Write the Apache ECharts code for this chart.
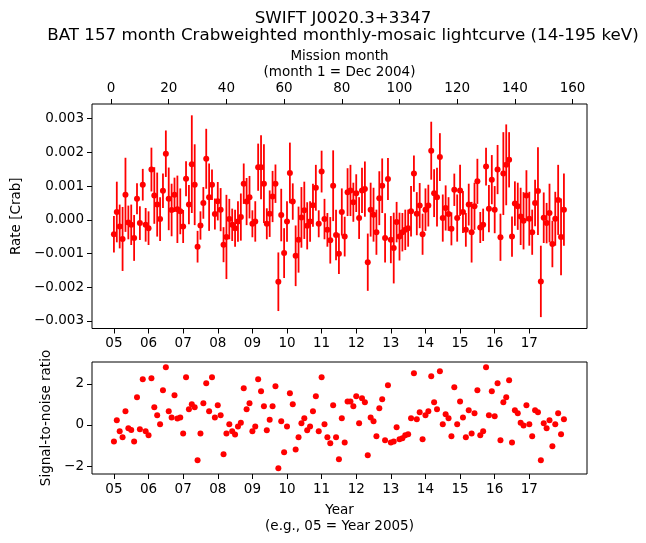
<!DOCTYPE html>
<html><head><meta charset="utf-8">
<script src="https://cdn.jsdelivr.net/npm/echarts@6/dist/echarts.min.js"></script>
<style>html,body{margin:0;padding:0;background:#fff}#c{width:646px;height:543px}</style>
</head><body><div id="c"></div>
<script>
// Rate [Crab] per mission month (1..157)
const rate = [
-0.00043,0.00023,-0.00020,-0.00057,0.00074,-0.00008,-0.00015,-0.00054,0.00062,-0.00010,
0.00104,-0.00015,-0.00025,0.00149,0.00072,0.00045,0.00002,0.00086,0.00196,0.00062,
0.00029,0.00074,0.00031,0.00025,-0.00020,0.00122,0.00045,0.00165,0.00104,-0.00080,
-0.00017,0.00050,0.00181,0.00067,0.00104,0.00017,0.00055,0.00030,-0.00074,-0.00051,
0.00002,-0.00015,-0.00025,-0.00005,0.00008,0.00107,0.00054,0.00067,-0.00012,-0.00005,
0.00156,0.00156,0.00107,-0.00012,0.00018,0.00069,0.00107,-0.00184,0.00014,-0.00099,
-0.00005,0.00139,0.00054,-0.00107,-0.00059,0.00007,0.00028,-0.00018,-0.00005,0.00043,
0.00095,-0.00012,0.00143,0.00002,-0.00030,-0.00061,0.00101,-0.00045,-0.00101,0.00023,
-0.00050,0.00082,0.00087,0.00052,0.00079,0.00005,0.00087,0.00091,-0.00126,0.00030,
0.00015,-0.00037,0.00064,0.00101,-0.00054,0.00121,-0.00059,-0.00084,-0.00007,-0.00050,
-0.00037,-0.00030,-0.00025,0.00025,0.00137,0.00018,0.00042,-0.00043,0.00030,0.00042,
0.00205,0.00079,0.00067,0.00186,0.00005,0.00035,0.00017,-0.00027,0.00089,0.00005,
0.00087,0.00023,-0.00030,0.00045,-0.00037,0.00040,0.00114,-0.00023,-0.00015,0.00158,
0.00033,0.00119,0.00030,0.00149,-0.00052,0.00137,0.00163,0.00178,-0.00050,0.00048,
0.00040,0.00010,-0.00003,0.00072,0.00003,-0.00037,0.00050,0.00085,-0.00183,0.00006,
-0.00010,0.00020,-0.00072,0.00003,0.00059,-0.00051,0.00030
];
// 1-sigma error [Crab]
const rateErr = [
0.00054,0.00090,0.00065,0.00095,0.00110,0.00050,0.00060,0.00068,0.00046,0.00050,
0.00047,0.00050,0.00050,0.00065,0.00084,0.00095,0.00065,0.00051,0.00069,0.00093,
0.00078,0.00051,0.00100,0.00068,0.00049,0.00052,0.00058,0.00145,0.00120,0.00047,
0.00042,0.00047,0.00089,0.00100,0.00045,0.00046,0.00057,0.00064,0.00052,0.00125,
0.00060,0.00048,0.00055,0.00060,0.00070,0.00060,0.00070,0.00063,0.00040,0.00060,
0.00070,0.00095,0.00117,0.00046,0.00069,0.00076,0.00057,0.00087,0.00078,0.00074,
0.00060,0.00090,0.00054,0.00090,0.00098,0.00090,0.00085,0.00070,0.00060,0.00064,
0.00068,0.00040,0.00062,0.00060,0.00050,0.00069,0.00105,0.00075,0.00060,0.00070,
0.00059,0.00071,0.00076,0.00058,0.00056,0.00062,0.00067,0.00082,0.00085,0.00080,
0.00080,0.00067,0.00080,0.00081,0.00073,0.00062,0.00070,0.00105,0.00060,0.00071,
0.00057,0.00060,0.00055,0.00075,0.00054,0.00064,0.00067,0.00061,0.00063,0.00062,
0.00086,0.00071,0.00087,0.00071,0.00070,0.00067,0.00050,0.00049,0.00048,0.00070,
0.00076,0.00062,0.00050,0.00062,0.00090,0.00070,0.00067,0.00046,0.00048,0.00056,
0.00070,0.00073,0.00070,0.00073,0.00070,0.00123,0.00120,0.00082,0.00060,0.00066,
0.00070,0.00085,0.00085,0.00075,0.00080,0.00067,0.00069,0.00130,0.00106,0.00075,
0.00060,0.00087,0.00069,0.00080,0.00104,0.00114,0.00107
];
// Signal-to-noise ratio
const snr = [
-0.80,0.23,-0.31,-0.60,0.67,-0.16,-0.24,-0.80,1.35,-0.21,
2.23,-0.31,-0.50,2.28,0.86,0.47,0.03,1.69,2.81,0.67,
0.37,1.45,0.31,0.37,-0.41,2.33,0.77,1.01,0.86,-1.72,
-0.41,1.06,2.03,0.67,2.33,0.37,0.96,0.47,-1.43,-0.41,
0.03,-0.31,-0.46,-0.08,0.11,1.79,0.77,1.06,-0.31,-0.08,
2.23,1.64,0.91,-0.26,0.26,0.91,1.89,-2.11,0.18,-1.33,
-0.08,1.55,1.01,-1.19,-0.60,0.08,0.33,-0.26,-0.08,0.67,
1.40,-0.31,2.33,0.03,-0.60,-0.89,0.96,-0.60,-1.67,0.33,
-0.85,1.15,1.15,0.91,1.40,0.08,1.30,1.11,-1.48,0.37,
0.18,-0.55,0.81,1.25,-0.75,1.94,-0.85,-0.80,-0.11,-0.70,
-0.65,-0.50,-0.45,0.33,2.52,0.28,0.62,-0.70,0.47,0.67,
2.37,1.11,0.77,2.62,0.03,0.52,0.33,-0.55,1.84,0.03,
1.15,0.37,-0.60,0.72,-0.41,0.57,1.69,-0.50,-0.31,2.81,
0.47,1.64,0.42,2.03,-0.75,1.11,1.35,2.18,-0.85,0.72,
0.57,0.11,-0.03,0.96,0.03,-0.55,0.72,0.62,-1.72,0.08,
-0.16,0.23,-1.04,0.03,0.57,-0.45,0.28
];
const monthTicks = [0,20,40,60,80,100,120,140,160];
const yearTickMonths = [1,13,25,37,49,61,73,85,97,109,121,133,145];
const yearLabels = ["05","06","07","08","09","10","11","12","13","14","15","16","17"];
const rateTicks = [-0.003,-0.002,-0.001,0,0.001,0.002,0.003];
const snrTicks = [-2,0,2];

const months = rate.map((_, i) => i + 1);
const FONT = 'DejaVu Sans';
const XMIN = -6.6, XMAX = 165;
const fmtNum = (v, d) => { const s = Math.abs(v).toFixed(d); return (v < -1e-12 ? '\u2212' : '') + s; };
const yearFmt = v => { const i = yearTickMonths.indexOf(v); return i >= 0 ? yearLabels[i] : ''; };
const tickStyle = { show: true, inside: false, length: 5, lineStyle: { color: '#000', width: 1 } };
const lblStyle = { color: '#000', fontFamily: FONT, fontSize: 13.5 };
const noLine = { show: false, onZero: false };

const chart = echarts.init(document.getElementById('c'), null, { renderer: 'canvas' });
chart.setOption({
  animation: false,
  backgroundColor: '#fff',
  title: [
    { text: 'SWIFT J0020.3+3347', left: 338, top: 5, textAlign: 'center',
      textStyle: { fontFamily: FONT, fontSize: 16.7, fontWeight: 'normal', color: '#000' } },
    { text: 'BAT 157 month Crabweighted monthly-mosaic lightcurve (14-195 keV)', left: 338, top: 22, textAlign: 'center',
      textStyle: { fontFamily: FONT, fontSize: 16.7, fontWeight: 'normal', color: '#000' } }
  ],
  grid: [
    { left: 92, top: 104, width: 495, height: 224.5, show: true, borderColor: '#000', borderWidth: 1, backgroundColor: 'transparent' },
    { left: 92, top: 362, width: 495, height: 112, show: true, borderColor: '#000', borderWidth: 1, backgroundColor: 'transparent' }
  ],
  xAxis: [
    { gridIndex: 0, type: 'value', position: 'bottom', min: XMIN, max: XMAX,
      axisLine: noLine, splitLine: { show: false },
      axisTick: Object.assign({ customValues: yearTickMonths }, tickStyle),
      axisLabel: Object.assign({ customValues: yearTickMonths, formatter: yearFmt, margin: 8 }, lblStyle) },
    { gridIndex: 0, type: 'value', position: 'top', min: XMIN, max: XMAX,
      axisLine: noLine, splitLine: { show: false },
      axisTick: Object.assign({ customValues: monthTicks }, tickStyle),
      axisLabel: Object.assign({ customValues: monthTicks, formatter: v => String(v), margin: 9 }, lblStyle),
      name: 'Mission month\n(month 1 = Dec 2004)', nameLocation: 'middle', nameGap: 24,
      nameTextStyle: { color: '#000', fontFamily: FONT, fontSize: 13.5, lineHeight: 16 } },
    { gridIndex: 1, type: 'value', position: 'bottom', min: XMIN, max: XMAX,
      axisLine: noLine, splitLine: { show: false },
      axisTick: Object.assign({ customValues: yearTickMonths }, tickStyle),
      axisLabel: Object.assign({ customValues: yearTickMonths, formatter: yearFmt, margin: 8 }, lblStyle),
      name: 'Year\n(e.g., 05 = Year 2005)', nameLocation: 'middle', nameGap: 28,
      nameTextStyle: { color: '#000', fontFamily: FONT, fontSize: 13.5, lineHeight: 16 } }
  ],
  yAxis: [
    { gridIndex: 0, type: 'value', min: -0.003228, max: 0.003436,
      axisLine: noLine, splitLine: { show: false },
      axisTick: Object.assign({ customValues: rateTicks }, tickStyle),
      axisLabel: Object.assign({ customValues: rateTicks, formatter: v => fmtNum(v, 3), margin: 8 }, lblStyle),
      name: 'Rate [Crab]', nameLocation: 'middle', nameRotate: 90, nameGap: 62,
      nameTextStyle: { color: '#000', fontFamily: FONT, fontSize: 13.5 } },
    { gridIndex: 1, type: 'value', min: -2.39, max: 3.07,
      axisLine: noLine, splitLine: { show: false },
      axisTick: Object.assign({ customValues: snrTicks }, tickStyle),
      axisLabel: Object.assign({ customValues: snrTicks, formatter: v => fmtNum(v, 0), margin: 8 }, lblStyle),
      name: 'Signal-to-noise ratio', nameLocation: 'middle', nameRotate: 90, nameGap: 36,
      nameTextStyle: { color: '#000', fontFamily: FONT, fontSize: 13.5 } }
  ],
  series: [
    { type: 'custom', xAxisIndex: 0, yAxisIndex: 0,
      data: months.map((m, i) => [m, rate[i] - rateErr[i], rate[i] + rateErr[i]]),
      renderItem: (params, api) => {
        const p1 = api.coord([api.value(0), api.value(1)]);
        const p2 = api.coord([api.value(0), api.value(2)]);
        return { type: 'line', shape: { x1: p1[0], y1: p1[1], x2: p2[0], y2: p2[1] },
                 style: { stroke: '#ff0000', lineWidth: 1.8 } };
      }, z: 2 },
    { type: 'scatter', xAxisIndex: 0, yAxisIndex: 0, symbol: 'circle', symbolSize: 6,
      itemStyle: { color: '#ff0000', opacity: 1 }, data: months.map((m, i) => [m, rate[i]]), z: 3 },
    { type: 'scatter', xAxisIndex: 2, yAxisIndex: 1, symbol: 'circle', symbolSize: 6,
      itemStyle: { color: '#ff0000', opacity: 1 }, data: months.map((m, i) => [m, snr[i]]), z: 3 }
  ]
});
</script></body></html>
